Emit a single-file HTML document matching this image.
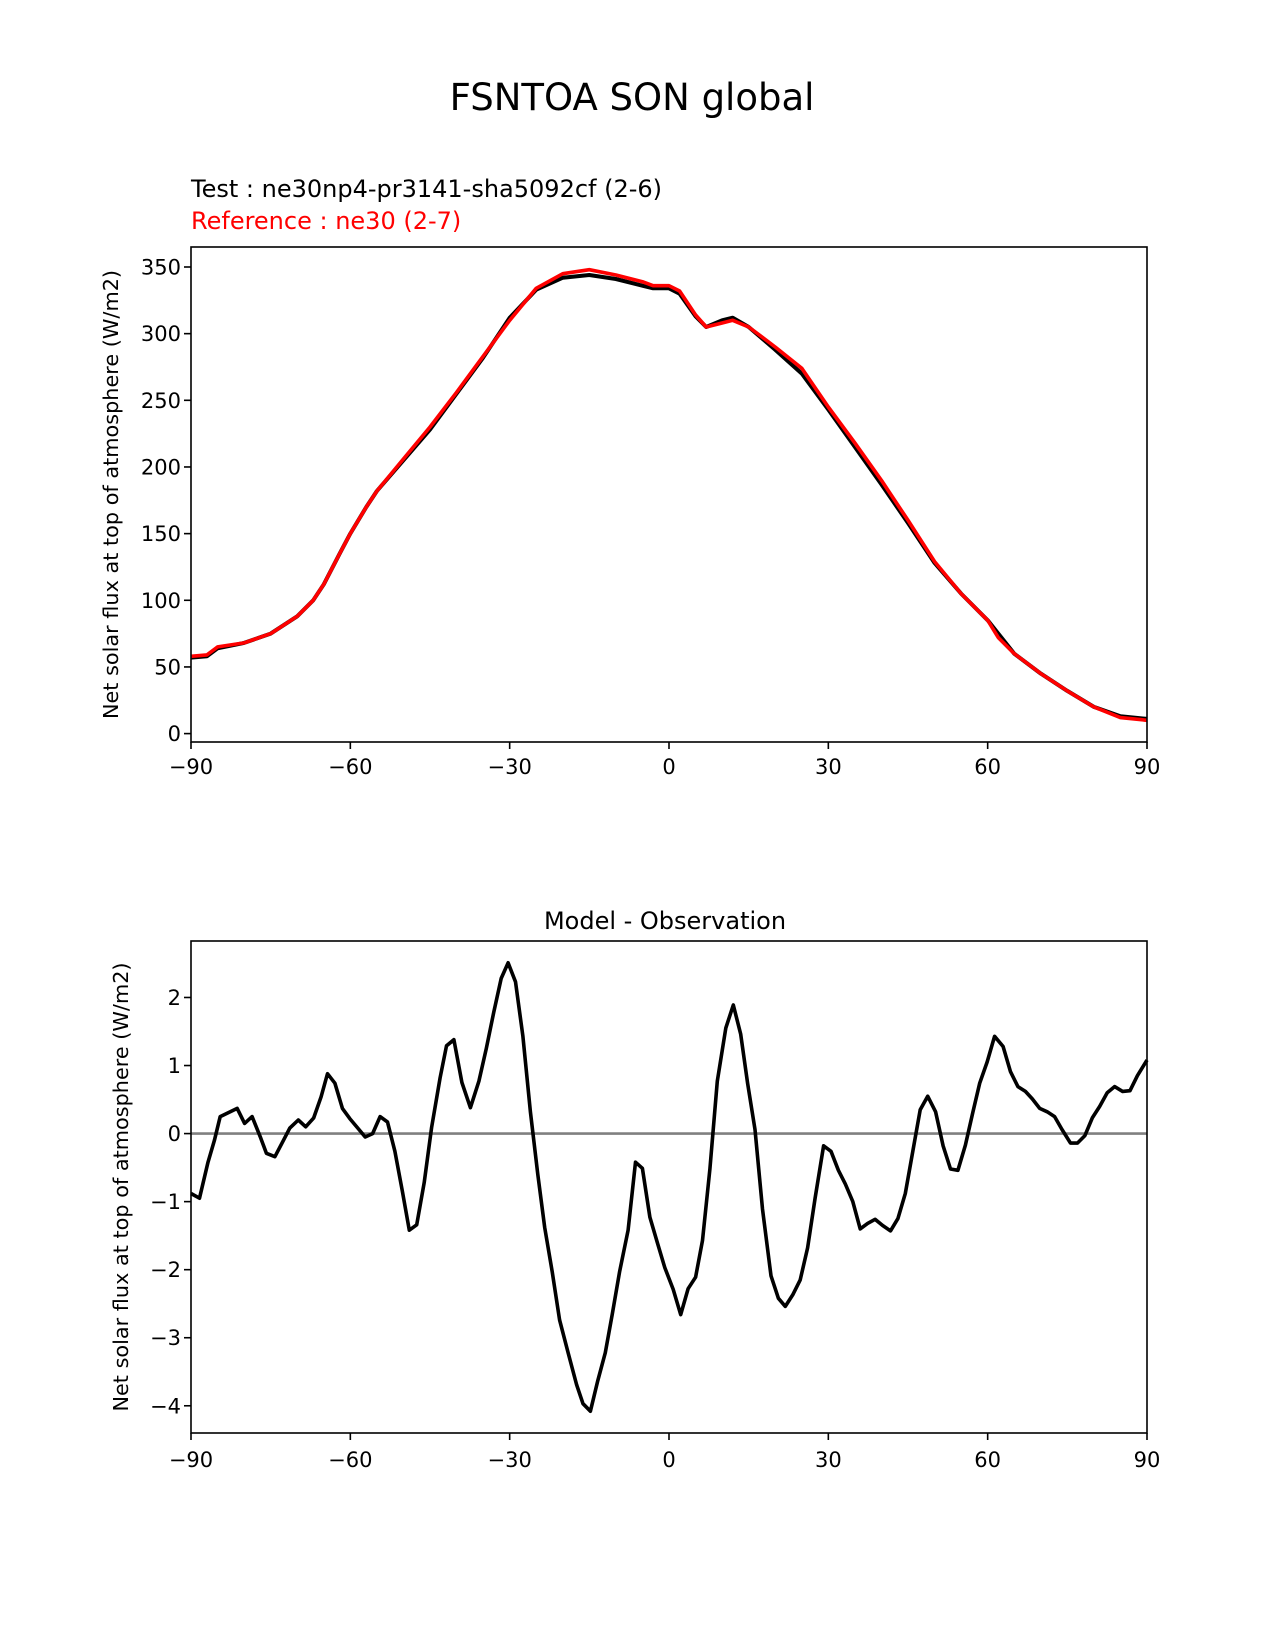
<!DOCTYPE html>
<html><head><meta charset="utf-8"><style>
html,body{margin:0;padding:0;background:#fff}
svg{display:block;font-family:"DejaVu Sans","Liberation Sans",sans-serif}
</style></head><body>
<svg id="fig" width="1275" height="1650" viewBox="0 0 1275 1650" xmlns="http://www.w3.org/2000/svg">
<rect width="1275" height="1650" fill="#fff"/>
<text x="632" y="110" font-size="37" text-anchor="middle">FSNTOA SON global</text>
<text x="191" y="197" font-size="24">Test : ne30np4-pr3141-sha5092cf (2-6)</text>
<text x="191" y="229" font-size="24" fill="#ff0000">Reference : ne30 (2-7)</text>
<text x="665" y="929" font-size="24" text-anchor="middle">Model - Observation</text>
<g id="top"></g>
<g id="bot"></g>
</svg>
<script>
const topLat = [-90,-87,-85,-80,-75,-70,-67,-65,-62,-60,-57,-55,-50,-45,-40,-35,-30,-25,-20,-15,-10,-5,-3,0,2,5,7,10,12,15,20,25,30,35,40,45,50,55,60,62,65,70,75,80,85,90];
const testVals = [57,58,64,68,75,88,100,112,135,150,170,182,205,228,255,282,312,333,342,344,341,336,334,334,330,313,305,310,312,305,288,270,243,215,187,158,128,105,85,75,60,45,32,20,13,11];
const refVals = [58,59,65,68,75,88,100,112,135,150,170,182,206,230,256,283,310,334,345,348,344,339,336,336,332,314,305,308,310,305,290,274,245,218,190,160,129,105,85,72,60,45,32,20,12,10];
const yTicksTop = [0,50,100,150,200,250,300,350];
const xTicks = [-90,-60,-30,0,30,60,90];
const diffLat = [-90,-88.4,-86.8,-85.6,-84.5,-81.3,-79.9,-78.5,-76.9,-75.8,-74.2,-72.6,-71.4,-69.8,-68.4,-66.9,-65.5,-64.3,-62.9,-61.5,-60.1,-58.6,-57.2,-55.8,-54.4,-53,-51.6,-50.2,-48.9,-47.5,-46.1,-44.7,-43.1,-41.9,-40.5,-39,-37.4,-35.8,-34.4,-33,-31.6,-30.3,-28.9,-27.5,-26.1,-24.7,-23.4,-22,-20.6,-19,-17.4,-16.2,-14.8,-13.4,-12,-10.7,-9.3,-7.7,-6.3,-5,-3.6,-2.2,-0.8,0.8,2.2,3.6,5,6.3,7.7,9.1,10.7,12.1,13.5,14.8,16.2,17.6,19.2,20.6,21.9,23.3,24.7,26.1,27.5,29.1,30.5,31.9,33.2,34.6,36,37.4,38.8,40.2,41.7,43.1,44.5,45.9,47.3,48.7,50.2,51.6,53,54.4,55.8,57.2,58.5,59.9,61.3,62.9,64.3,65.7,67.1,68.4,69.8,71.2,72.6,74,75.6,76.9,78.3,79.7,81.1,82.5,83.9,85.4,86.8,88.2,90];
const diffVals = [-0.88,-0.95,-0.42,-0.1,0.25,0.37,0.15,0.25,-0.06,-0.29,-0.34,-0.1,0.08,0.2,0.1,0.23,0.54,0.88,0.74,0.37,0.22,0.08,-0.05,0,0.25,0.17,-0.26,-0.85,-1.42,-1.34,-0.72,0.09,0.82,1.29,1.38,0.75,0.38,0.77,1.25,1.78,2.28,2.51,2.23,1.43,0.32,-0.6,-1.38,-2.03,-2.74,-3.22,-3.69,-3.97,-4.08,-3.63,-3.22,-2.66,-2.03,-1.42,-0.42,-0.51,-1.23,-1.6,-1.97,-2.29,-2.66,-2.28,-2.11,-1.57,-0.52,0.77,1.55,1.89,1.46,0.74,0.06,-1.11,-2.09,-2.42,-2.54,-2.37,-2.15,-1.68,-0.95,-0.18,-0.26,-0.54,-0.74,-1,-1.4,-1.32,-1.26,-1.35,-1.43,-1.25,-0.88,-0.26,0.35,0.55,0.32,-0.18,-0.52,-0.54,-0.17,0.31,0.74,1.05,1.43,1.28,0.91,0.69,0.62,0.51,0.37,0.32,0.25,0.06,-0.14,-0.14,-0.03,0.23,0.4,0.6,0.69,0.62,0.63,0.85,1.08];
const yTicksBot = [-4,-3,-2,-1,0,1,2];

const NS='http://www.w3.org/2000/svg';
function mk(parent,tag,attrs){const e=document.createElementNS(NS,tag);for(const k in attrs)e.setAttribute(k,attrs[k]);parent.appendChild(e);return e;}
const L=191,R=1147;
const xs = v => L + (v+90)/180*(R-L);

function panel(g, top, bottom, ymin, ymax, yTicks, series, ylabelX, tickLabelY, zero){
  const ys = v => bottom - (v-ymin)/(ymax-ymin)*(bottom-top);
  if(zero){
    const z=mk(g,'line',{x1:L,x2:R,y1:ys(0),y2:ys(0),stroke:'#808080','stroke-width':2.6});
    
    
  }
  series.forEach(s=>{
    const p=mk(g,'polyline',{points:s.xs.map((x,i)=>xs(x).toFixed(1)+','+ys(s.ys[i]).toFixed(1)).join(' '),fill:'none',stroke:s.color,'stroke-width':s.w,'stroke-linejoin':'round'});
    
    
  });
  const f=mk(g,'rect',{x:L,y:top,width:R-L,height:bottom-top,fill:'none',stroke:'#000','stroke-width':1.6});
  
  
  xTicks.forEach(t=>{
    mk(g,'line',{x1:xs(t),x2:xs(t),y1:bottom,y2:bottom+7,stroke:'#000','stroke-width':1.6});
    const tx=mk(g,'text',{x:xs(t),y:tickLabelY,'font-size':21,'text-anchor':'middle'});
    tx.textContent=(t<0?'\u2212'+(-t):String(t));
    
    
  });
  yTicks.forEach(t=>{
    mk(g,'line',{x1:L-7,x2:L,y1:ys(t),y2:ys(t),stroke:'#000','stroke-width':1.6});
    const tx=mk(g,'text',{x:L-10,y:ys(t)+7.5,'font-size':21,'text-anchor':'end'});
    tx.textContent=(t<0?'\u2212'+(-t):String(t));
    
    
  });
  const yl=mk(g,'text',{x:0,y:0,'font-size':20.8,'text-anchor':'middle',transform:`translate(${ylabelX},${(top+bottom)/2}) rotate(-90)`});
  yl.textContent='Net solar flux at top of atmosphere (W/m2)';
  
  
}
panel(document.getElementById('top'),247,742,-6.3,365,yTicksTop,[
  {xs:topLat,ys:testVals,color:'#000',w:4,name:'test-line'},
  {xs:topLat,ys:refVals,color:'#ff0000',w:3.6,name:'reference-line'}
],118,774,false);
panel(document.getElementById('bot'),941,1433,-4.40,2.83,yTicksBot,[
  {xs:diffLat,ys:diffVals,color:'#000',w:3.6,name:'difference-line'}
],128,1467,true);
</script>
</body></html>
